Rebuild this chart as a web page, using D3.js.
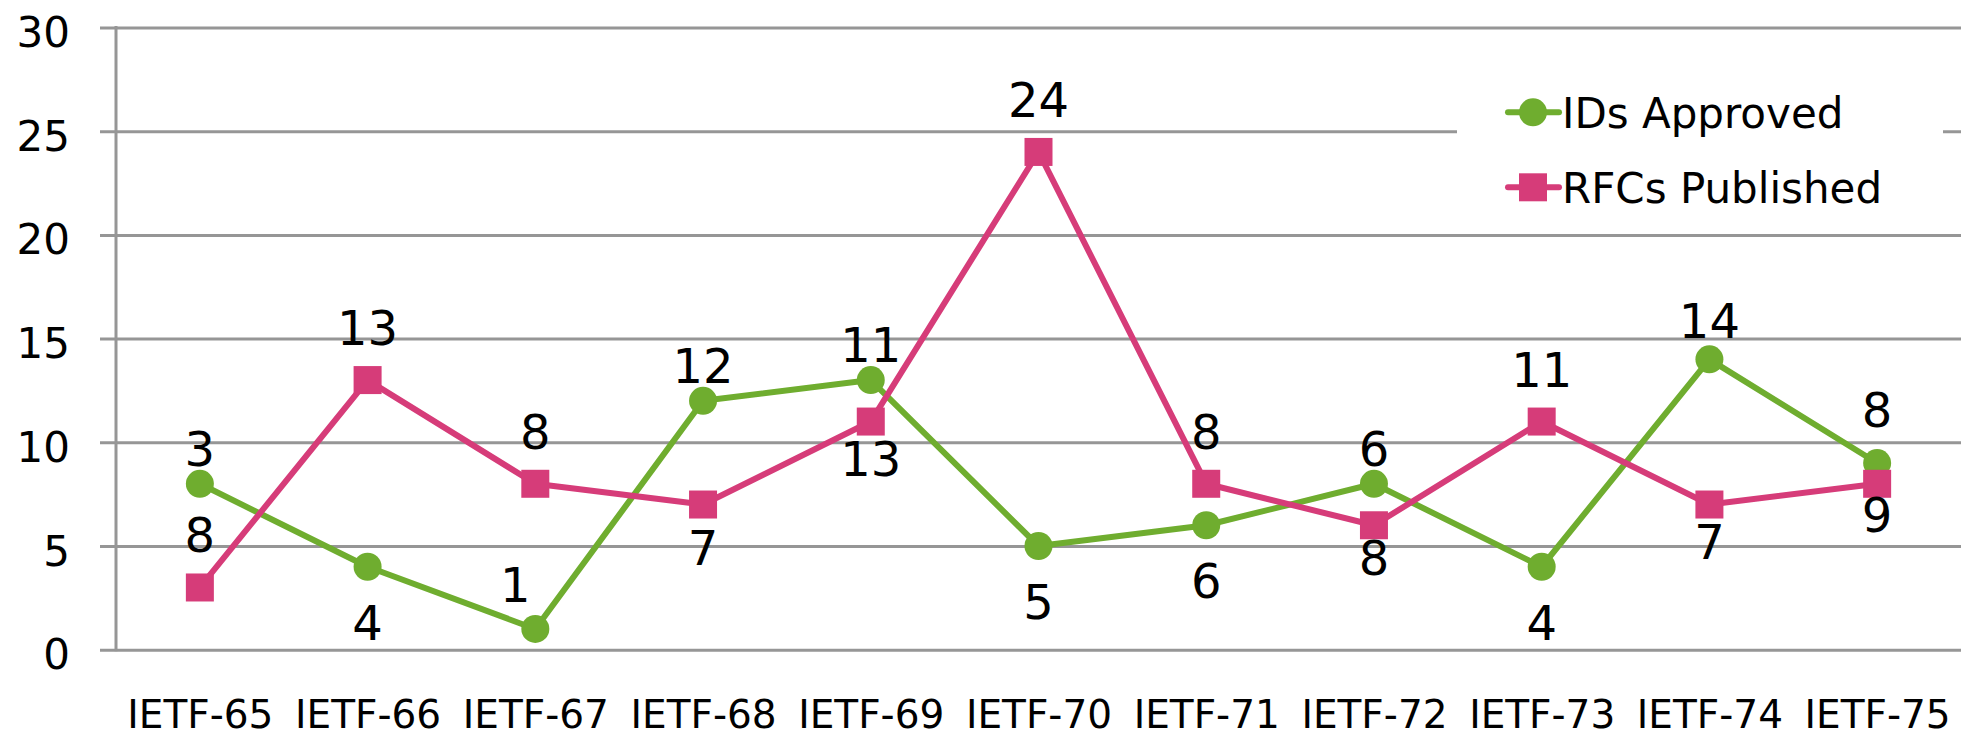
<!DOCTYPE html>
<html>
<head>
<meta charset="utf-8">
<script src="https://cdn.jsdelivr.net/npm/d3@7"></script>
<style>
    html, body { margin: 0; padding: 0; background: #fff; }
    svg text { font-family: "DejaVu Sans", sans-serif; fill: #000; }
</style>
</head>
<body>
<div id="chart"></div>
<script>
// meetings on the x axis
const meetings = ["IETF-65", "IETF-66", "IETF-67", "IETF-68", "IETF-69", "IETF-70",
    "IETF-71", "IETF-72", "IETF-73", "IETF-74", "IETF-75"];

// series values
const idsApproved = [8, 4, 1, 12, 13, 5, 6, 8, 4, 14, 9];
const rfcsPublished = [3, 13, 8, 7, 11, 24, 8, 6, 11, 7, 8];

// data label texts as printed next to each point, and on which side they sit
const idsLabelText = ["3", "4", "1", "12", "11", "5", "6", "6", "4", "14", "8"];
const idsLabelSide = ["above", "below", "above", "above", "above", "below", "below", "above", "below", "above", "above"];
const rfcLabelText = ["8", "13", "8", "7", "13", "24", "8", "8", "11", "7", "9"];
const rfcLabelSide = ["above", "above", "above", "below", "below", "above", "above", "below", "above", "below", "below"];

const yTicks = [0, 5, 10, 15, 20, 25, 30];
const seriesNames = ["IDs Approved", "RFCs Published"];

// layout
const width = 1972, height = 737;
const plotLeft = 116, plotRight = 1961, plotTop = 27.5, plotBottom = 649.7;
const gridLeft = 100;
const green = "#6fad2f", pink = "#d63c79", gridColor = "#969696";

// small hand nudges for labels that the original placed off the usual spot
const idsNudge = { "IETF-67": [-20, -9], "IETF-75": [0, -18], "IETF-74": [0, -3] };
const rfcNudge = { "IETF-68": [0, 6], "IETF-72": [0, -4], "IETF-75": [0, -6] };

const svg = d3.select("#chart").append("svg")
    .attr("width", width)
    .attr("height", height);

const x = d3.scalePoint().domain(meetings).range([plotLeft, plotRight]).padding(0.5);
const y = d3.scaleLinear().domain([0, 30]).range([plotBottom, plotTop]);

// horizontal gridlines + y labels
const yAxis = svg.append("g")
    .attr("transform", `translate(${gridLeft},0)`)
    .call(d3.axisLeft(y).tickValues(yTicks).tickSize(-(plotRight - gridLeft)).tickPadding(30));
yAxis.select(".domain").remove();
yAxis.selectAll(".tick line").attr("stroke", gridColor).attr("stroke-width", 3);
yAxis.selectAll(".tick text")
    .attr("dy", 19)
    .style("font-size", "42px");

// vertical axis line
svg.append("line")
    .attr("x1", plotLeft).attr("x2", plotLeft)
    .attr("y1", plotTop - 1.5).attr("y2", plotBottom + 1.5)
    .attr("stroke", gridColor).attr("stroke-width", 3);

// x labels
const xAxis = svg.append("g")
    .attr("transform", `translate(0,${plotBottom})`)
    .call(d3.axisBottom(x).tickSize(0).tickPadding(51));
xAxis.select(".domain").remove();
xAxis.selectAll(".tick text").style("font-size", "39px");

// legend background breaks the 25 gridline
svg.append("rect")
    .attr("x", 1457).attr("y", 60)
    .attr("width", 486).attr("height", 162)
    .attr("fill", "#fff");

const line = d3.line()
    .x((d, i) => x(meetings[i]))
    .y(d => y(d));

// IDs Approved
svg.append("path")
    .datum(idsApproved)
    .attr("d", line)
    .attr("fill", "none")
    .attr("stroke", green)
    .attr("stroke-width", 6)
    .attr("stroke-linejoin", "round");
svg.append("g").selectAll("circle")
    .data(idsApproved)
    .enter().append("circle")
    .attr("cx", (d, i) => x(meetings[i]))
    .attr("cy", d => y(d))
    .attr("r", 14)
    .attr("fill", green);

// RFCs Published
svg.append("path")
    .datum(rfcsPublished)
    .attr("d", line)
    .attr("fill", "none")
    .attr("stroke", pink)
    .attr("stroke-width", 6)
    .attr("stroke-linejoin", "round");
svg.append("g").selectAll("rect")
    .data(rfcsPublished)
    .enter().append("rect")
    .attr("x", (d, i) => x(meetings[i]) - 14)
    .attr("y", d => y(d) - 14)
    .attr("width", 28)
    .attr("height", 28)
    .attr("fill", pink);

// data labels
function drawLabels(values, texts, sides, aboveOff, belowOff, nudge) {
    svg.append("g").selectAll("text")
        .data(values)
        .enter().append("text")
        .attr("text-anchor", "middle")
        .style("font-size", "48px")
        .attr("x", (d, i) => x(meetings[i]) + ((nudge[meetings[i]] || [0, 0])[0]))
        .attr("y", (d, i) => y(d) + (sides[i] === "above" ? aboveOff : belowOff)
            + ((nudge[meetings[i]] || [0, 0])[1]))
        .text((d, i) => texts[i]);
}
drawLabels(idsApproved, idsLabelText, idsLabelSide, -18, 73, idsNudge);
drawLabels(rfcsPublished, rfcLabelText, rfcLabelSide, -35, 54, rfcNudge);

// legend
const legend = svg.append("g");
const legendRows = [
    { name: seriesNames[0], color: green, cy: 112.3, shape: "circle" },
    { name: seriesNames[1], color: pink, cy: 187.3, shape: "square" }
];
legendRows.forEach(r => {
    legend.append("line")
        .attr("x1", 1508).attr("x2", 1559)
        .attr("y1", r.cy).attr("y2", r.cy)
        .attr("stroke", r.color).attr("stroke-width", 6)
        .attr("stroke-linecap", "round");
    if (r.shape === "circle") {
        legend.append("circle")
            .attr("cx", 1533).attr("cy", r.cy).attr("r", 14)
            .attr("fill", r.color);
    } else {
        legend.append("rect")
            .attr("x", 1519).attr("y", r.cy - 14)
            .attr("width", 28).attr("height", 28)
            .attr("fill", r.color);
    }
    legend.append("text")
        .attr("x", 1562)
        .attr("y", r.cy + 16)
        .style("font-size", "42px")
        .text(r.name);
});
</script>
</body>
</html>
